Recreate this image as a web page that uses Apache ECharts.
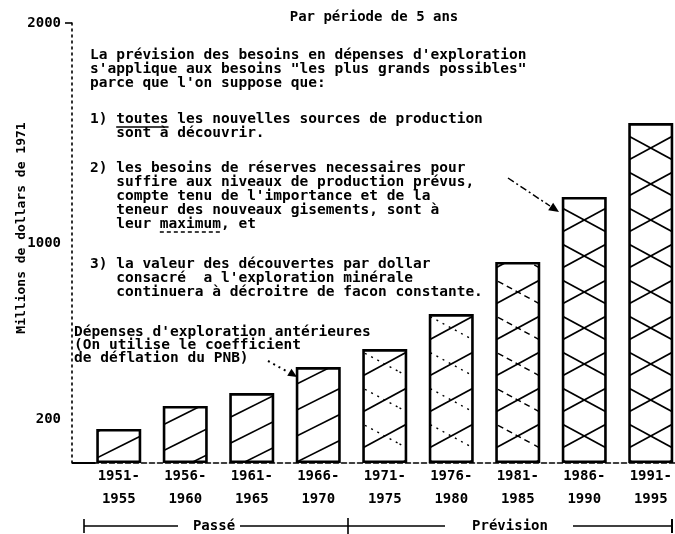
<!DOCTYPE html>
<html>
<head>
<meta charset="utf-8">
<script src="https://cdn.jsdelivr.net/npm/echarts@6/dist/echarts.min.js"></script>
<style>
  html, body { margin: 0; padding: 0; background: #fff; }
  #chart { width: 675px; height: 534px; }
</style>
</head>
<body>
<div id="chart"></div>
<script>
// Five-year periods and exploration spending (millions of 1971 dollars)
const periods = ['1951-\n1955', '1956-\n1960', '1961-\n1965', '1966-\n1970', '1971-\n1975',
                 '1976-\n1980', '1981-\n1985', '1986-\n1990', '1991-\n1995'];
const spending = [155, 259, 318, 436, 518, 677, 914, 1209, 1545];
const yLabelValues = [200, 1000, 2000];
const yTickValues = [2000];

const titleText = 'Par période de 5 ans';
const axisName = 'Millions de dollars de 1971';
const noteLines = [
  ['La prévision des besoins en dépenses d\'exploration',
   's\'applique aux besoins "les plus grands possibles"',
   'parce que l\'on suppose que:'],
  ['1) toutes les nouvelles sources de production',
   '   sont à découvrir.'],
  ['2) les besoins de réserves necessaires pour',
   '   suffire aux niveaux de production prévus,',
   '   compte tenu de l\'importance et de la',
   '   teneur des nouveaux gisements, sont à',
   '   leur maximum, et'],
  ['3) la valeur des découvertes par dollar',
   '   consacré  a l\'exploration minérale',
   '   continuera à décroitre de facon constante.']
];
const pastNote = ['Dépenses d\'exploration antérieures',
                  '(On utilise le coefficient',
                  'de déflation du PNB)'];
const pastLabel = 'Passé';
const forecastLabel = 'Prévision';

// ---- layout constants ----
const GRID_LEFT = 85.5, GRID_TOP = 23, BAND = 66.5, PLOT_H = 440;
const AXIS_X = 72;
const BASE_Y = GRID_TOP + PLOT_H;
const FONT = '"DejaVu Sans Mono", "Liberation Mono", monospace';
const BODY = 'bold 14.5px ' + FONT;
const CHAR_W = 14.5 * 0.602;

// ---- hatch fills ----
// Each family is a set of parallel lines; slope * tile width is a whole
// multiple of the spacing so the tile repeats without seams.
function hatchTile(w, h, families) {
  const c = document.createElement('canvas');
  c.width = w; c.height = h;
  const ctx = c.getContext('2d');
  ctx.fillStyle = '#fff';
  ctx.fillRect(0, 0, w, h);
  ctx.strokeStyle = '#000';
  const cx = (GRID_LEFT + BAND / 2) % w;
  families.forEach(function (f) {
    ctx.lineWidth = f.width;
    ctx.setLineDash(f.dash || []);
    const n = Math.ceil((h + f.slope * 3 * w) / f.spacing) + 2;
    for (let k = -n; k <= n; k++) {
      const y0 = f.phase + k * f.spacing;
      ctx.beginPath();
      ctx.moveTo(cx - 2 * w, y0 + f.dir * f.slope * 2 * w);
      ctx.lineTo(cx + 2 * w, y0 - f.dir * f.slope * 2 * w);
      ctx.stroke();
    }
  });
  return { image: c, repeat: 'repeat' };
}
const XS = 36 / BAND; // slope of the cross-hatching
const singleHatch = hatchTile(52, 26, [{ dir: 1, slope: 0.5, spacing: 26, phase: 5, width: 1.7 }]);
const mixedHatch = hatchTile(133, 72, [
  { dir: 1, slope: XS, spacing: 36, phase: 4, width: 1.7 },
  { dir: -1, slope: XS, spacing: 36, phase: 4, width: 1.4, dash: [2, 5] }
]);
const dashCross = hatchTile(133, 72, [
  { dir: 1, slope: XS, spacing: 36, phase: 4, width: 1.7 },
  { dir: -1, slope: XS, spacing: 36, phase: 4, width: 1.5, dash: [6, 4] }
]);
const fullCross = hatchTile(133, 72, [
  { dir: 1, slope: XS, spacing: 36, phase: 4, width: 1.7 },
  { dir: -1, slope: XS, spacing: 36, phase: 4, width: 1.7 }
]);
function fillFor(i) {
  if (i < 4) return singleHatch;
  if (i < 6) return mixedHatch;
  if (i < 7) return dashCross;
  return fullCross;
}

// ---- annotation text ----
const graphics = [];
function addText(str, x, y, font, align) {
  graphics.push({ type: 'text', x: x, y: y, silent: true,
    style: { text: str, font: font || BODY, fill: '#000', verticalAlign: 'middle', align: align || 'left' } });
}
function addLine(x1, y1, x2, y2, w, dash) {
  graphics.push({ type: 'line', silent: true,
    shape: { x1: x1, y1: y1, x2: x2, y2: y2 },
    style: { stroke: '#000', lineWidth: w || 1.5, lineDash: dash || null } });
}
function addHead(x, y, angle, size) {
  const a = angle, s = size || 8;
  graphics.push({ type: 'polygon', silent: true,
    shape: { points: [
      [x, y],
      [x - s * Math.cos(a) + s * 0.45 * Math.sin(a), y - s * Math.sin(a) - s * 0.45 * Math.cos(a)],
      [x - s * Math.cos(a) - s * 0.45 * Math.sin(a), y - s * Math.sin(a) + s * 0.45 * Math.cos(a)]
    ] },
    style: { fill: '#000' } });
}

const noteX = 90;
const noteY = [[55, 69, 83], [119, 133], [168, 182, 196, 210, 224], [264, 278, 292]];
noteLines.forEach(function (para, p) {
  para.forEach(function (ln, i) { addText(ln, noteX, noteY[p][i]); });
});
// underlined words
addLine(noteX + 3 * CHAR_W, noteY[1][0] + 8, noteX + 9 * CHAR_W, noteY[1][0] + 8, 1.3);
addLine(noteX + 8 * CHAR_W, noteY[2][4] + 8, noteX + 15 * CHAR_W, noteY[2][4] + 8, 1.3, [4, 3]);

const pastY = [332, 345, 358];
pastNote.forEach(function (ln, i) { addText(ln, 74, pastY[i]); });
// dotted pointer to the last past period
addLine(268, 361, 288, 372, 2, [2, 4]);
addHead(297, 377, Math.atan2(5, 8), 9);
// dash-dot pointer to the forecast
addLine(508, 178, 550, 206, 1.5, [7, 3, 2, 3]);
addHead(559, 212, Math.atan2(6, 9), 10);

// short solid stub of the baseline between the value axis and the first band
addLine(AXIS_X, BASE_Y, GRID_LEFT + 10, BASE_Y, 2);

// period band along the bottom
const bandY = 526;
addText(pastLabel, 214, bandY, 'bold 14px ' + FONT, 'center');
addText(forecastLabel, 510, bandY, 'bold 14px ' + FONT, 'center');
addLine(84, bandY, 178, bandY, 1.6);
addLine(84, bandY - 7, 84, bandY + 7, 1.6);
addLine(240, bandY, 445, bandY, 1.6);
addLine(348, bandY - 8, 348, bandY + 8, 1.6);
addLine(573, bandY, 672, bandY, 1.6);
addLine(672, bandY - 7, 672, bandY + 7, 2);

const chart = echarts.init(document.getElementById('chart'), null, { renderer: 'canvas' });
chart.setOption({
  backgroundColor: '#fff',
  animation: false,
  title: {
    text: titleText, left: 369, top: 5, textAlign: 'center',
    textStyle: { fontFamily: FONT, fontSize: 14, fontWeight: 'bold', color: '#000' }
  },
  grid: {
    left: GRID_LEFT, top: GRID_TOP, width: BAND * periods.length, height: PLOT_H,
    containLabel: false, outerBoundsMode: 'none'
  },
  xAxis: {
    type: 'category',
    data: periods,
    axisLine: { lineStyle: { color: '#000', width: 1.6, type: [5, 3] } },
    axisTick: { show: false },
    axisLabel: {
      interval: 0, color: '#000', fontFamily: FONT, fontWeight: 'bold', fontSize: 14,
      lineHeight: 23, margin: 2
    }
  },
  yAxis: {
    type: 'value', min: 0, max: 2000, offset: GRID_LEFT - AXIS_X,
    name: axisName, nameLocation: 'middle', nameGap: 44, nameRotate: 90,
    nameMoveOverlap: false,
    nameTextStyle: { color: '#000', fontFamily: FONT, fontWeight: 'bold', fontSize: 13, padding: [0, 0, 0, 30] },
    axisLine: { show: true, lineStyle: { color: '#000', width: 1.6, type: [2, 4] } },
    axisTick: { show: true, customValues: yTickValues, length: 7, lineStyle: { color: '#000', width: 1.6 } },
    splitLine: { show: false },
    axisLabel: {
      customValues: yLabelValues, color: '#000', fontFamily: FONT, fontWeight: 'bold',
      fontSize: 14, margin: 11,
      formatter: function (v) { return String(v); }
    }
  },
  series: [{
    type: 'bar',
    barWidth: 45,
    data: spending.map(function (v, i) {
      return { value: v, itemStyle: { color: fillFor(i) } };
    }),
    itemStyle: { borderColor: '#000', borderWidth: 2.6 },
    emphasis: { disabled: true }
  }],
  graphic: graphics
});
</script>
</body>
</html>
